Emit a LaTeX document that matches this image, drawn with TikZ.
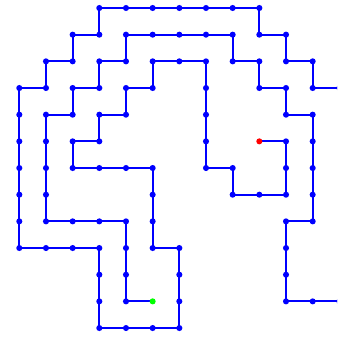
\documentclass[tikz,border=0pt]{standalone}
\begin{document}
\begin{tikzpicture}[x=0.8cm,y=0.8cm,
  walk/.style={draw={rgb,255:red,0;green,0;blue,255},line width=1.7pt},
  dot/.style={fill={rgb,255:red,0;green,0;blue,255}},
  startdot/.style={fill={rgb,255:red,0;green,255;blue,0}},
  enddot/.style={fill={rgb,255:red,255;green,0;blue,0}}]
\useasboundingbox (-0.724,0.3) rectangle (11.912,-12.336);
\clip (-0.724,0.3) rectangle (11.912,-12.336);
\foreach \i in {0,...,12}{\foreach \j in {0,...,12}{\coordinate (p-\i-\j) at (\i,-\j);}}
\def\pathA{4-11,4-10,4-9,4-8,3-8,2-8,1-8,1-7,1-6,1-5,1-4,2-4,2-3,3-3,3-2,4-2,4-1,5-1,6-1,7-1,8-1,8-2,9-2,9-3,10-3,10-4,11-4,11-5,11-6,11-7,11-8,10-8,10-9,10-10,10-11,11-11,12-11}
\def\pathB{10-5,10-6,10-7,9-7,8-7,8-6,7-6,7-5,7-4,7-3,7-2,6-2,5-2,5-3,4-3,4-4,3-4,3-5,2-5,2-6,3-6,4-6,5-6,5-7,5-8,5-9,6-9,6-10,6-11,6-12,5-12,4-12,3-12,3-11,3-10,3-9,2-9,1-9,0-9,0-8,0-7,0-6,0-5,0-4,0-3,1-3,1-2,2-2,2-1,3-1,3-0,4-0,5-0,6-0,7-0,8-0,9-0,9-1,10-1,10-2,11-2,11-3,12-3}
\draw[walk] (p-5-11) \foreach \p in \pathA { -- (p-\p) };
\draw[walk] (p-9-5) \foreach \p in \pathB { -- (p-\p) };
\foreach \p in \pathA {\fill[dot] (p-\p) circle (2.6pt);}
\foreach \p in \pathB {\fill[dot] (p-\p) circle (2.6pt);}
\fill[startdot] (p-5-11) circle (2.6pt);
\fill[enddot] (p-9-5) circle (2.6pt);
\end{tikzpicture}
\end{document}
